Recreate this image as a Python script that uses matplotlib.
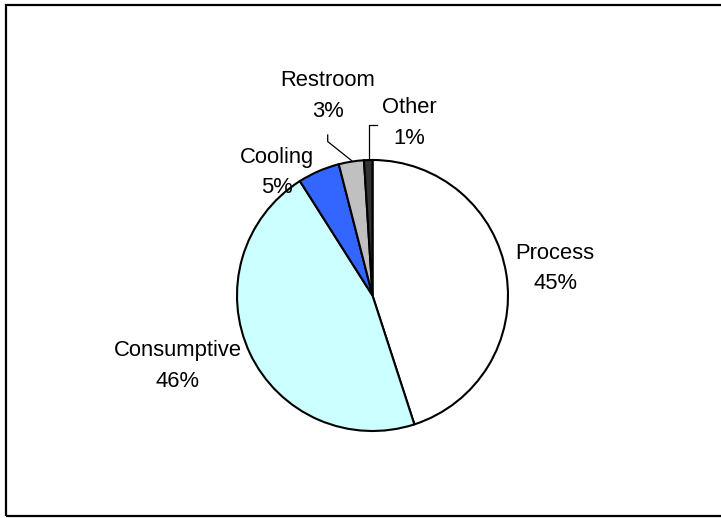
import matplotlib.pyplot as plt
from matplotlib.patches import Rectangle

# water use breakdown
labels = ['Process', 'Consumptive', 'Cooling', 'Restroom', 'Other']
shares = [45, 46, 5, 3, 1]
colors = ['#FFFFFF', '#CCFFFF', '#3366FF', '#C0C0C0', '#333333']

plt.rcParams['font.family'] = ['Liberation Sans', 'DejaVu Sans']

W, H = 721, 518
cx, cy, r = 372.5, 295.5, 135.5   # pie centre / radius in pixels (from top-left)

def pos(px, py):
    # pixel position -> pie data coords
    return (px - cx) / r, (cy - py) / r

fig = plt.figure(figsize=(W / 100, H / 100), dpi=100)
ax = fig.add_axes([(cx - r) / W, (H - cy - r) / H, 2 * r / W, 2 * r / H])

ax.pie(shares, colors=colors, startangle=90, counterclock=False,
       wedgeprops=dict(edgecolor='black', linewidth=1.5))
ax.set_xlim(-1, 1)
ax.set_ylim(-1, 1)
ax.axis('off')

# label blocks (centre positions)
label_xy = [(555, 268.5), (178, 366), (277, 172.5), (328, 96), (409.5, 123)]
for name, v, (px, py) in zip(labels, shares, label_xy):
    x, y = pos(px, py)
    ax.text(x, y, f'{name}\n{v}%', ha='center', va='center',
            multialignment='center', fontsize=15.8, linespacing=1.6)

# leader lines for the small slices
rest = [pos(327.7, 135), pos(327.7, 141.5), pos(351.7, 160.7)]
other = [pos(377.3, 125), pos(369.3, 125), pos(369.3, 160)]
for pts in (rest, other):
    xs, ys = zip(*pts)
    ax.plot(xs, ys, color='black', lw=0.9, clip_on=False)

# chart border
fig.add_artist(Rectangle((6 / W, 2 / H), 1.2, (H - 6.5) / H,
                         transform=fig.transFigure, fill=False,
                         edgecolor='black', linewidth=1.6))

fig.savefig('out.png', dpi=100)
